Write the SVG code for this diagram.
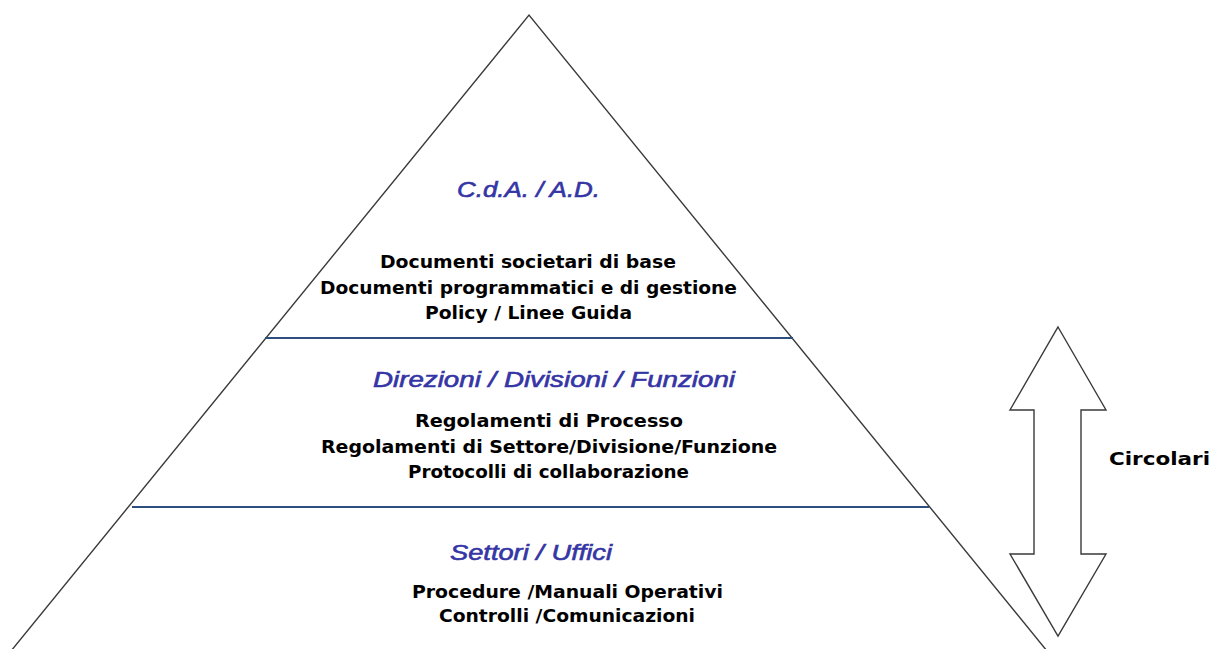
<svg xmlns="http://www.w3.org/2000/svg" width="1214" height="649" viewBox="0 0 1214 649">
<style>
.edge{fill:none;stroke:#3a3a3a;stroke-width:1.4}
.sep{stroke:#2d4f80;stroke-width:2}
.head{font-family:"Liberation Sans",Arial,sans-serif;font-style:italic;font-size:22px;fill:#3535a5;stroke:#3535a5;stroke-width:0.6;text-anchor:start}
.body{font-family:"DejaVu Sans",Verdana,sans-serif;font-weight:bold;font-size:17px;fill:#000;text-anchor:start}
.arrow{fill:#fff;stroke:#3a3a3a;stroke-width:1.4;stroke-linejoin:miter}
</style>
<rect width="1214" height="649" fill="#fff"/>
<g id="pyramid">
  <polyline class="edge" points="11,651 529,15 1047,651"/>
</g>
<g id="connectors">
  <line class="sep" x1="265" y1="338" x2="793" y2="338"/>
  <line class="sep" x1="132" y1="507" x2="929" y2="507"/>
</g>
<g id="level-top">
  <text class="head" x="457" y="197" textLength="143" lengthAdjust="spacingAndGlyphs">C.d.A. / A.D.</text>
  <text class="body" x="380" y="268" textLength="296" lengthAdjust="spacingAndGlyphs">Documenti societari di base</text>
  <text class="body" x="320" y="294" textLength="417" lengthAdjust="spacingAndGlyphs">Documenti programmatici e di gestione</text>
  <text class="body" x="425" y="319" textLength="207" lengthAdjust="spacingAndGlyphs">Policy / Linee Guida</text>
</g>
<g id="level-middle">
  <text class="head" x="373" y="387" textLength="362" lengthAdjust="spacingAndGlyphs">Direzioni / Divisioni / Funzioni</text>
  <text class="body" x="415" y="427" textLength="268" lengthAdjust="spacingAndGlyphs">Regolamenti di Processo</text>
  <text class="body" x="321" y="453" textLength="456" lengthAdjust="spacingAndGlyphs">Regolamenti di Settore/Divisione/Funzione</text>
  <text class="body" x="408" y="478" textLength="281" lengthAdjust="spacingAndGlyphs">Protocolli di collaborazione</text>
</g>
<g id="level-bottom">
  <text class="head" x="450" y="560" textLength="162" lengthAdjust="spacingAndGlyphs">Settori / Uffici</text>
  <text class="body" x="412" y="598" textLength="311" lengthAdjust="spacingAndGlyphs">Procedure /Manuali Operativi</text>
  <text class="body" x="439" y="622" textLength="256" lengthAdjust="spacingAndGlyphs">Controlli /Comunicazioni</text>
</g>
<g id="circolari">
  <polygon class="arrow" points="1058,327 1106,410 1081,410 1081,554 1106,554 1058,636 1010,554 1034,554 1034,410 1010,410"/>
  <text class="body" x="1109" y="465" font-size="19" textLength="101" lengthAdjust="spacingAndGlyphs">Circolari</text>
</g>
</svg>
